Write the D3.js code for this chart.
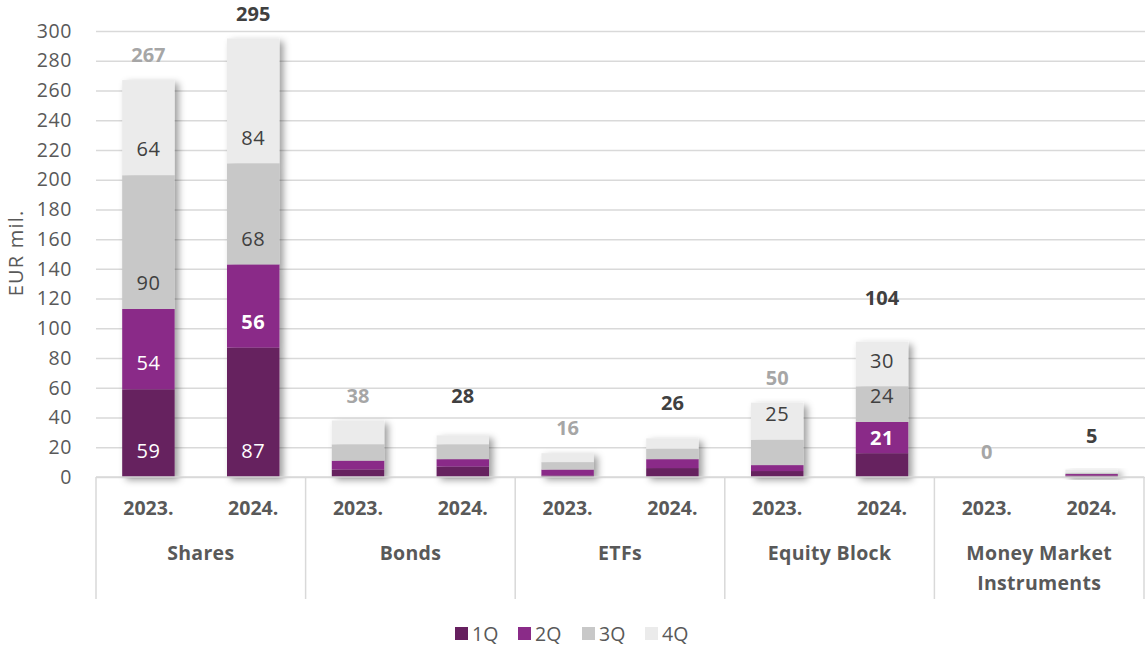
<!DOCTYPE html>
<html><head><meta charset="utf-8">
<script src="https://cdn.jsdelivr.net/npm/d3@7/dist/d3.min.js"></script>
<style>body{margin:0;background:#fff}svg{display:block;font-family:"Open Sans",sans-serif}</style>
</head><body><svg id="c" width="1145" height="647"></svg>
<script>
const categories = ["Shares","Bonds","ETFs","Equity Block","Money Market Instruments"];
const years = ["2023.","2024."];
const quarters = ["1Q","2Q","3Q","4Q"];
// values per [category][year] = [1Q,2Q,3Q,4Q]
const q1 = [[59,87],[5,7],[1,6],[4,16],[0,1]];
const q2 = [[54,56],[6,5],[4,6],[4,21],[0,1]];
const q3 = [[90,68],[11,10],[5,7],[17,24],[0,1]];
const q4 = [[64,84],[16,6],[6,7],[25,30],[0,2]];
const totals = [[267,295],[38,28],[16,26],[50,104],[0,5]];
// value at which each total label sits (hidden label series)
const totalLabelAt = [[267,295],[38,38],[16,33],[50,104],[0,11]];
// which segment values are labelled (null = hidden)
const shownLabels = [
  [[59,54,90,64],[87,56,68,84]],
  [[null,null,null,null],[null,null,null,null]],
  [[null,null,null,null],[null,null,null,null]],
  [[null,null,null,25],[null,21,24,30]],
  [[null,null,null,null],[null,null,null,null]]
];
const yTicks = [0,20,40,60,80,100,120,140,160,180,200,220,240,260,280,300];
const colors = ["#66205F","#8A2B88","#C8C8C8","#EBEBEB"];
const FONT = "'Open Sans', sans-serif";

const svg = d3.select("#c");
const defs = svg.append("defs");
const f = defs.append("filter").attr("id","sh").attr("x","-20%").attr("y","-20%").attr("width","160%").attr("height","160%");
f.append("feDropShadow").attr("dx",4).attr("dy",3).attr("stdDeviation",3.5).attr("flood-color","#000").attr("flood-opacity",0.38);

const L = 96, R = 1144, T = 31, B = 477;
const y = d3.scaleLinear().domain([0,300]).range([B,T]);
const xc = d3.scaleBand().domain(categories).range([L,R]).padding(0);
const xy = d3.scaleBand().domain(years).range([0,xc.bandwidth()]).paddingInner(0.5).paddingOuter(0.25);

// gridlines via axis
const ga = svg.append("g").attr("transform",`translate(${L},0)`)
  .call(d3.axisLeft(y).tickValues(yTicks).tickSize(-(R-L+1)).tickPadding(24).tickFormat(d3.format("d")));
ga.select(".domain").remove();
ga.selectAll(".tick line").attr("stroke","#D9D9D9").attr("stroke-width",1.5);
ga.selectAll(".tick text").attr("fill","#595959").style("font-size","19.5px").style("letter-spacing","0.6px").style("font-family",FONT);

svg.append("text").attr("transform","translate(23,253) rotate(-90)").attr("text-anchor","middle")
  .attr("fill","#595959").style("font-size","20px").style("letter-spacing","1.2px").text("EUR mil.");

// bars
const series = [q1,q2,q3,q4];
categories.forEach((cat,ci)=>{
  years.forEach((yr,yi)=>{
    const x0 = xc(cat)+xy(yr), w = xy.bandwidth();
    const g = svg.append("g").attr("filter","url(#sh)");
    let base = 0;
    const segs = series.map((s,si)=>{ const v=s[ci][yi]; const d={si,v,b0:base,b1:base+v}; base+=v; return d;});
    g.selectAll("rect").data(segs.filter(d=>d.v>0)).join("rect")
      .attr("x",x0).attr("width",w)
      .attr("y",d=>y(d.b1)).attr("height",d=>y(d.b0)-y(d.b1))
      .attr("fill",d=>colors[d.si]);
    segs.forEach(d=>{
      const lab = shownLabels[ci][yi][d.si];
      if(lab==null) return;
      const purple = d.si<2;
      const bold = purple && yi===1 && !(ci===0 && d.si===0);
      const h = y(d.b0)-y(d.b1);
      const ly = h < 34 ? (y(d.b0)+y(d.b1))/2 : y(d.b0)-26;
      svg.append("text").attr("x",x0+w/2).attr("y",ly).attr("dy","0.36em")
        .attr("text-anchor","middle").attr("fill",purple?"#FFFFFF":"#404040")
        .style("font-size","20px").style("letter-spacing","0.5px").style("font-weight",bold?"bold":"normal").text(lab);
    });
    svg.append("text").attr("x",x0+w/2).attr("y",y(totalLabelAt[ci][yi])-25).attr("dy","0.36em")
      .attr("text-anchor","middle").attr("fill",yi===0?"#A6A6A6":"#404040")
      .style("font-size","20px").style("font-weight","bold").text(totals[ci][yi]);
  });
});

// category axis lines
const sep = categories.map(c=>xc(c)).concat([R]);
svg.selectAll("line.sep").data(sep).join("line").attr("class","sep")
  .attr("x1",d=>d).attr("x2",d=>d).attr("y1",B).attr("y2",599).attr("stroke","#D9D9D9").attr("stroke-width",1.5);
svg.append("line").attr("x1",L).attr("x2",R).attr("y1",B).attr("y2",B).attr("stroke","#D9D9D9").attr("stroke-width",1.5);

categories.forEach(cat=>{
  years.forEach(yr=>{
    svg.append("text").attr("x",xc(cat)+xy(yr)+xy.bandwidth()/2).attr("y",508).attr("dy","0.36em")
      .attr("text-anchor","middle").attr("fill","#595959").style("font-size","19.5px").style("font-weight","bold").text(yr);
  });
  const cx = xc(cat)+xc.bandwidth()/2;
  const lines = cat==="Money Market Instruments" ? ["Money Market","Instruments"] : [cat];
  lines.forEach((ln,i)=>{
    svg.append("text").attr("x",cx).attr("y",553+i*30).attr("dy","0.36em")
      .attr("text-anchor","middle").attr("fill","#595959").style("font-size","19.5px").style("letter-spacing","0.3px").style("font-weight","bold").text(ln);
  });
});

// legend
const lx = [455,518,582,645];
quarters.forEach((q,i)=>{
  svg.append("rect").attr("x",lx[i]).attr("y",627).attr("width",13).attr("height",13).attr("fill",colors[i]);
  svg.append("text").attr("x",lx[i]+17).attr("y",634).attr("dy","0.36em").attr("fill","#595959").style("font-size","19.5px").text(q);
});
</script></body></html>
